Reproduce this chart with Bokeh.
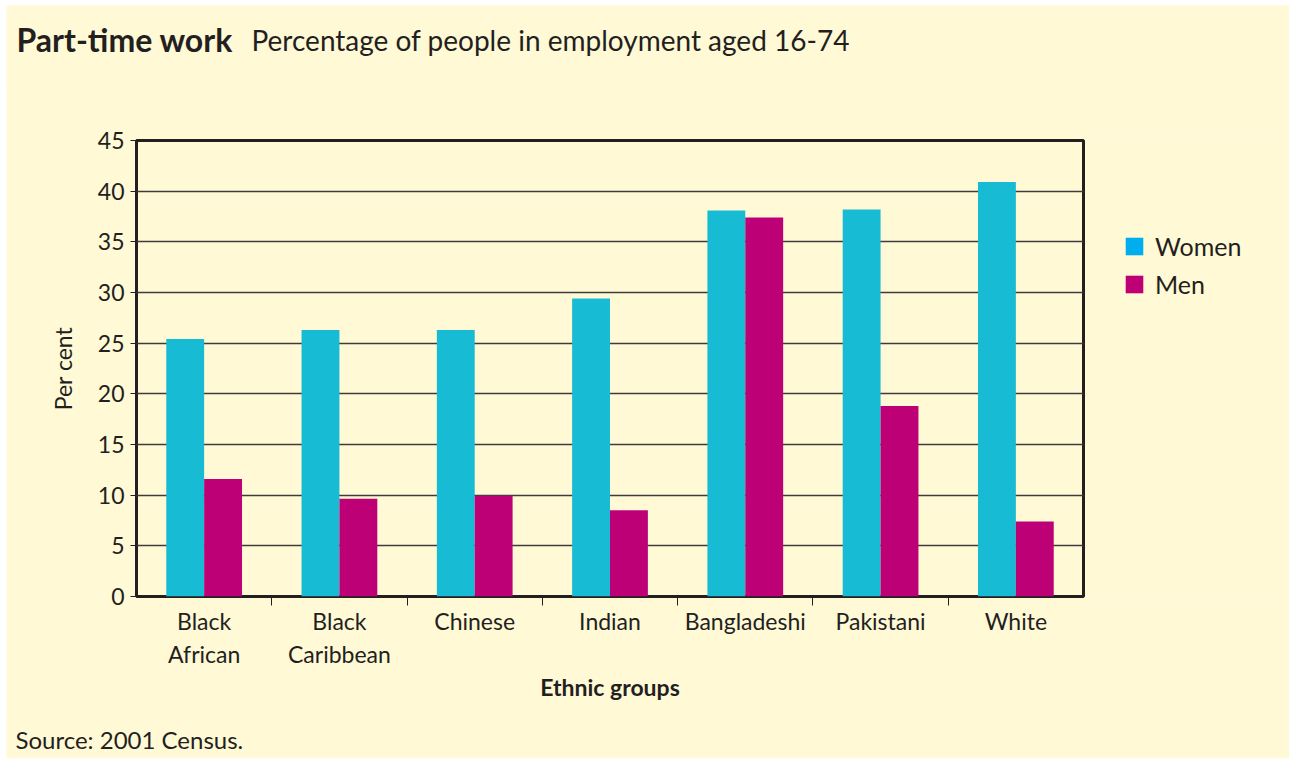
from bokeh.plotting import figure
from bokeh.layouts import row
from bokeh.models import FixedTicker, Label, Legend, LegendItem, ColumnDataSource, Range1d
from bokeh.embed import file_html
from bokeh.resources import INLINE

# ---- data ----
groups = ["Black\nAfrican", "Black\nCaribbean", "Chinese", "Indian", "Bangladeshi", "Pakistani", "White"]
women = [25.4, 26.3, 26.3, 29.4, 38.1, 38.2, 40.9]
men = [11.6, 9.65, 9.95, 8.5, 37.4, 18.8, 7.4]
y_ticks = [0, 5, 10, 15, 20, 25, 30, 35, 40, 45]
series_labels = ["Women", "Men"]

CREAM = "#FFF9D6"
WOMEN_C = "#17BBD4"
MEN_C = "#BE0077"
WOMEN_LEG = "#00AEEF"
FONT = "Lato"
TXT = "#231F20"
W = 1283
MAIN_W = 1080


def strip(width, height, margin, **kw):
    f = figure(width=width, height=height, output_backend="svg", toolbar_location=None,
               x_axis_type=None, y_axis_type=None, x_range=Range1d(0, 1), y_range=Range1d(0, 1),
               min_border=0, min_border_left=0, min_border_right=0,
               min_border_top=kw.get("top", 0), min_border_bottom=kw.get("bottom", 0),
               background_fill_color=CREAM, border_fill_color=CREAM)
    f.outline_line_color = None
    f.grid.visible = False
    f.margin = margin
    return f


# ---- header ----
head = strip(W, 81, (5, 0, -1, 6))
head.add_layout(Label(x=10, y=47, x_units="screen", y_units="screen", text="Part-time work",
                      text_font=FONT, text_font_style="bold", text_font_size="32px",
                      text_baseline="alphabetic", text_color=TXT))
head.add_layout(Label(x=245, y=47, x_units="screen", y_units="screen",
                      text="Percentage of people in employment aged 16-74",
                      text_font=FONT, text_font_size="28px", text_baseline="alphabetic", text_color=TXT))

# ---- main chart ----
n = len(groups)
centers = [i + 0.5 for i in range(n)]
bw = 0.28
src = ColumnDataSource(dict(
    xw=[c - bw / 2 for c in centers],
    xm=[c + bw / 2 for c in centers],
    women=women, men=men))

p = figure(width=MAIN_W, height=630, output_backend="svg", toolbar_location=None,
           x_range=Range1d(0, n), y_range=Range1d(0, 45),
           min_border_left=130, min_border_right=3, min_border_top=55, min_border_bottom=119,
           background_fill_color=CREAM, border_fill_color=CREAM)
p.margin = (0, 0, 0, 6)
p.outline_line_color = TXT
p.outline_line_width = 3

p.vbar(x="xw", top="women", width=bw, source=src, fill_color=WOMEN_C, line_color=None)
p.vbar(x="xm", top="men", width=bw, source=src, fill_color=MEN_C, line_color=None)

# axes
xa = p.xaxis[0]
xa.ticker = FixedTicker(ticks=centers, minor_ticks=list(range(1, n)))
xa.major_label_overrides = {c: g for c, g in zip(centers, groups)}
xa.major_tick_line_color = None
xa.major_tick_out = 0
xa.minor_tick_in = 0
xa.minor_tick_out = 9
xa.minor_tick_line_color = TXT
xa.minor_tick_line_width = 1
xa.axis_line_color = None
xa.major_label_standoff = 1
xa.major_label_text_font = FONT
xa.major_label_text_font_size = "23px"
xa.major_label_text_color = TXT
xa.axis_label = "Ethnic groups"
xa.axis_label_text_font = FONT
xa.axis_label_text_font_style = "bold"
xa.axis_label_text_font_size = "23px"
xa.axis_label_text_color = TXT
xa.axis_label_standoff = 2

ya = p.yaxis[0]
ya.ticker = FixedTicker(ticks=y_ticks)
ya.minor_tick_line_color = None
ya.major_tick_in = 0
ya.major_tick_out = 6
ya.major_tick_line_color = TXT
ya.axis_line_color = None
ya.major_label_standoff = 6
ya.major_label_text_font = FONT
ya.major_label_text_font_size = "23px"
ya.major_label_text_color = TXT
ya.axis_label = "Per cent"
ya.axis_label_text_font = FONT
ya.axis_label_text_font_style = "normal"
ya.axis_label_text_font_size = "23px"
ya.axis_label_text_color = TXT
ya.axis_label_standoff = 18

p.xgrid.grid_line_color = None
p.ygrid.grid_line_color = "#3c3c3c"
p.ygrid.grid_line_width = 1.5

# ---- legend panel (separate figure to the right of the chart) ----
lp = strip(W - MAIN_W + 1, 630, (0, 0, 0, -1), top=55, bottom=119)
nan = float("nan")
rw = lp.vbar(x=[nan], top=[nan], width=bw, fill_color=WOMEN_LEG, line_color=None)
rm = lp.vbar(x=[nan], top=[nan], width=bw, fill_color=MEN_C, line_color=None)
legend = Legend(items=[LegendItem(label=series_labels[0], renderers=[rw]),
                       LegendItem(label=series_labels[1], renderers=[rm])],
                location=(38, 297), padding=0, margin=0, spacing=8,
                glyph_width=22, glyph_height=22, label_height=22, label_standoff=10,
                label_text_font=FONT, label_text_font_size="25px", label_text_color=TXT,
                border_line_color=None, background_fill_alpha=0)
lp.add_layout(legend, "center")

# ---- footer ----
foot = strip(W, 44, (-1, 0, 2, 6))
foot.add_layout(Label(x=9, y=19, x_units="screen", y_units="screen", text="Source: 2001 Census.",
                      text_font=FONT, text_font_size="24px", text_baseline="alphabetic", text_color=TXT))

body = row(p, lp, spacing=0)
open("out.html", "w").write(file_html([head, body, foot], INLINE))
